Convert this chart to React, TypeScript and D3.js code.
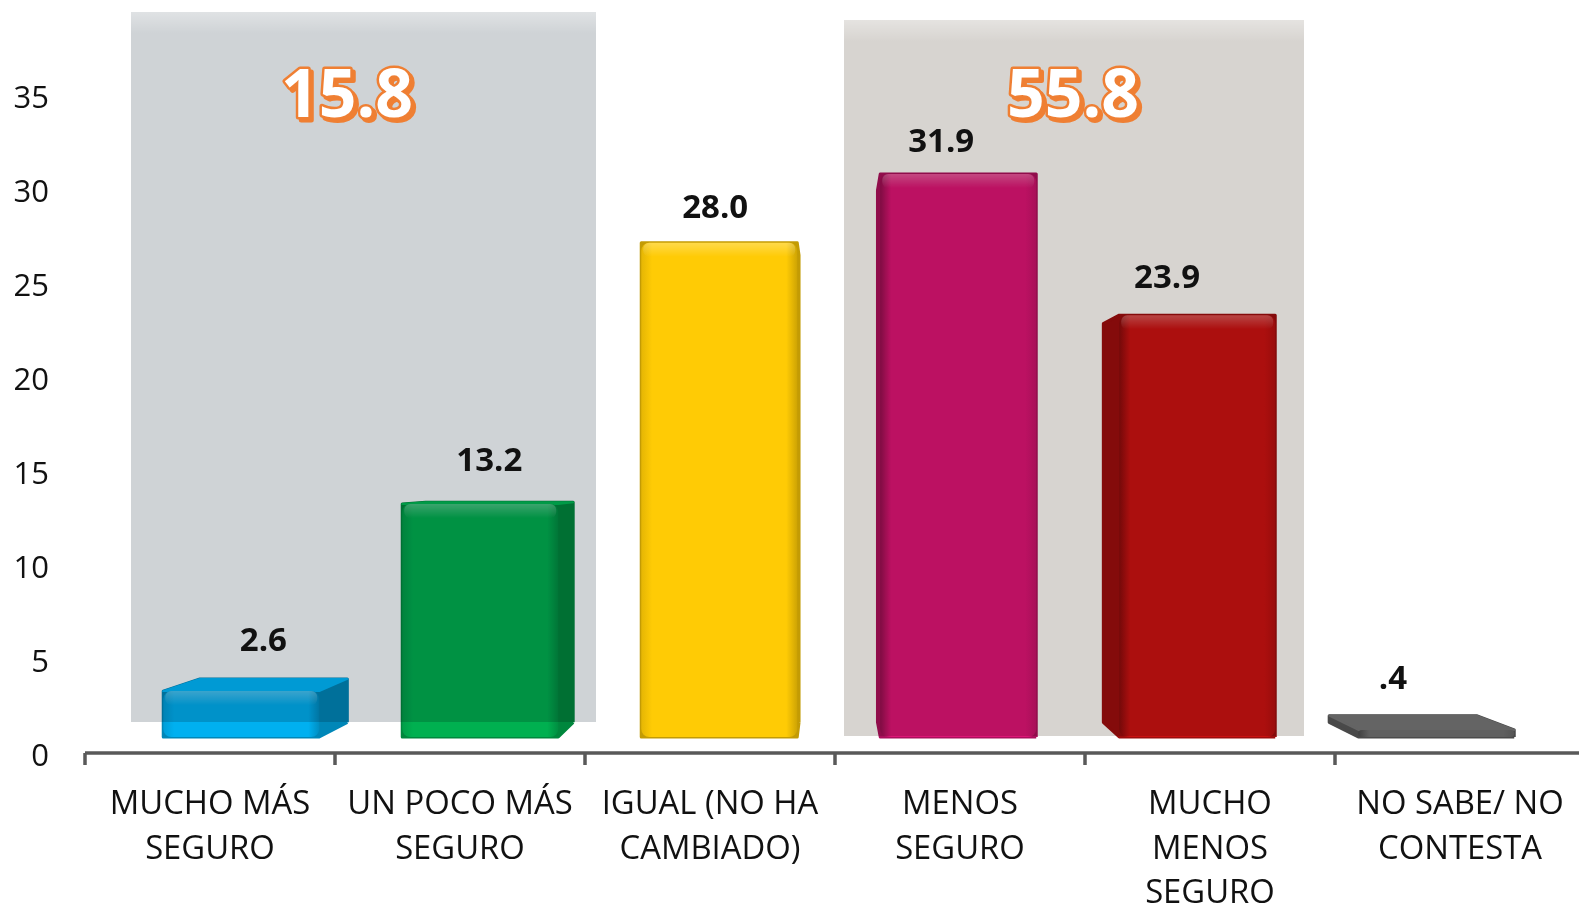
import React from 'react';
import * as d3 from 'd3';

const categories = [
  'MUCHO MÁS SEGURO',
  'UN POCO MÁS SEGURO',
  'IGUAL (NO HA CAMBIADO)',
  'MENOS SEGURO',
  'MUCHO MENOS SEGURO',
  'NO SABE/ NO CONTESTA',
];
const categoryLines = [
  ['MUCHO MÁS', 'SEGURO'],
  ['UN POCO MÁS', 'SEGURO'],
  ['IGUAL (NO HA', 'CAMBIADO)'],
  ['MENOS', 'SEGURO'],
  ['MUCHO', 'MENOS', 'SEGURO'],
  ['NO SABE/ NO', 'CONTESTA'],
];
const values = [2.6, 13.2, 28.0, 31.9, 23.9, 0.4];
const valueLabels = ['2.6', '13.2', '28.0', '31.9', '23.9', '.4'];
const barColors = ['#00b0f0', '#00b050', '#ffcb05', '#df1478', '#cc1111', '#5f5f5f'];
const yTicks = [0, 5, 10, 15, 20, 25, 30, 35];
const groupMore = [0, 1];
const groupLess = [3, 4];

const W = 1579;
const H = 907;
const FONT = "'Open Sans', 'DejaVu Sans', sans-serif";

export default function App() {
  React.useEffect(() => {
    document.body.style.margin = '0';
    document.body.style.overflow = 'hidden';
  }, []);

  const x = d3.scaleBand<string>().domain(categories).range([85, 1585]).padding(0);
  const yAxis = d3.scaleLinear().domain([0, 35]).range([755, 97]);
  const yBar = d3.scaleLinear().domain([0, 35]).range([737, 737 - 35 * 17.65]);
  const yLabel = d3.scaleLinear().domain([0, 35]).range([684.3, 684.3 - 35 * 17.05]);

  const VP = { x: 830, y: 470 };
  const DEPTH = 0.055;
  const back = (px: number, py: number): [number, number] => [
    px + DEPTH * (VP.x - px),
    py + DEPTH * (VP.y - py),
  ];
  const frontW = 156;
  const axisY = 753;

  const bars = categories.map((c, i) => {
    const cx = (x(c) as number) + x.bandwidth() / 2;
    const fc = cx + 0.044 * (920 - cx);
    const x0 = fc - frontW / 2;
    const x1 = fc + frontW / 2;
    const yB = yBar(0);
    const yT = yBar(values[i]);
    const pts: [number, number][] = [
      [x0, yT], [x1, yT], [x1, yB], [x0, yB],
      back(x0, yT), back(x1, yT), back(x1, yB), back(x0, yB),
    ];
    const hull = d3.polygonHull(pts) as [number, number][];
    const topVisible = yT > VP.y;
    const topFace = [[x0, yT], [x1, yT], back(x1, yT), back(x0, yT)];
    const base = d3.color(barColors[i]) as d3.RGBColor;
    return { c, i, cx, fc, x0, x1, yB, yT, hull, topVisible, topFace, base };
  });

  const line = d3.line();

  const panel = (idx: number[], top: number, bottom: number, padL: number, padR: number) => {
    const a = x(categories[idx[0]]) as number;
    const b = (x(categories[idx[idx.length - 1]]) as number) + x.bandwidth();
    return { x0: a + padL, x1: b + padR, top, bottom };
  };
  const p1 = panel(groupMore, 12, 722, 46, 11);
  const p2 = panel(groupLess, 20, 736, 9, -31);
  const sumMore = d3.sum(groupMore, (k) => values[k]);
  const sumLess = d3.sum(groupLess, (k) => values[k]);
  const bigLabels = [
    { idx: groupMore, text: sumMore.toFixed(1), p: p1, fill: '#cfd3d6' },
    { idx: groupLess, text: sumLess.toFixed(1), p: p2, fill: '#d7d4d0' },
  ].map((g) => {
    const mid = (x(categories[g.idx[0]]) as number) + x.bandwidth();
    return { ...g, tx: mid + 0.032 * (710 - mid) };
  });

  const tickXs = categories
    .map((c) => x(c) as number)
    .concat([(x(categories[categories.length - 1]) as number) + x.bandwidth()]);

  return (
    <svg width={W} height={H} style={{ position: 'fixed', left: 0, top: 0, display: 'block' }} fontFamily={FONT}>
      <defs>
        {bars.map((b) => {
          const kl = b.fc > VP.x ? 1.1 : 0.3;
          const kr = b.fc < VP.x ? 0.6 : 0.3;
          return (
            <linearGradient key={'g' + b.i} id={'g' + b.i} x1="0" x2="1" y1="0" y2="0">
              <stop offset="0" stopColor={b.base.darker(kl).formatHex()} />
              <stop offset="0.07" stopColor={b.base.formatHex()} />
              <stop offset="0.93" stopColor={b.base.formatHex()} />
              <stop offset="1" stopColor={b.base.darker(kr).formatHex()} />
            </linearGradient>
          );
        })}
        <linearGradient id="bevel" x1="0" x2="0" y1="0" y2="1">
          <stop offset="0" stopColor="#ffffff" stopOpacity="0.28" />
          <stop offset="1" stopColor="#ffffff" stopOpacity="0" />
        </linearGradient>
        <linearGradient id="panelShade" x1="0" x2="0" y1="0" y2="1">
          <stop offset="0" stopColor="#ffffff" stopOpacity="0.35" />
          <stop offset="0.03" stopColor="#ffffff" stopOpacity="0" />
        </linearGradient>
      </defs>
      <rect x={0} y={0} width={W} height={H} fill="#ffffff" />

      {/* bars */}
      {bars.map((b) => (
        <g key={'bar' + b.i}>
          <path
            d={line(b.hull.concat([b.hull[0]])) as string}
            fill={b.base.darker(0.75).formatHex()}
            stroke={b.base.darker(0.75).formatHex()}
            strokeWidth={3}
            strokeLinejoin="round"
          />
          {b.topVisible && (
            <path
              d={line(b.topFace as [number, number][]) + 'Z'}
              fill={b.base.brighter(0.15).formatHex()}
              stroke={b.base.brighter(0.15).formatHex()}
              strokeWidth={2}
              strokeLinejoin="round"
            />
          )}
          <rect
            x={b.x0}
            y={b.yT}
            width={b.x1 - b.x0}
            height={b.yB - b.yT}
            rx={Math.min(8, (b.yB - b.yT) / 2)}
            fill={`url(#g${b.i})`}
          />
          {b.yB - b.yT > 24 && (
            <rect x={b.x0 + 2} y={b.yT} width={b.x1 - b.x0 - 4} height={14} rx={6} fill="url(#bevel)" />
          )}
        </g>
      ))}

      {/* translucent grouping panels */}
      {bigLabels.map((g, k) => (
        <g key={'panel' + k}>
          <rect
            x={g.p.x0}
            y={g.p.top}
            width={g.p.x1 - g.p.x0}
            height={g.p.bottom - g.p.top}
            fill={g.fill}
            style={{ mixBlendMode: 'multiply' }}
          />
          <rect
            x={g.p.x0}
            y={g.p.top}
            width={g.p.x1 - g.p.x0}
            height={g.p.bottom - g.p.top}
            fill="url(#panelShade)"
          />
        </g>
      ))}

      {/* y tick labels */}
      {yTicks.map((t) => (
        <text key={'yt' + t} x={49} y={yAxis(t) + 11} textAnchor="end" fontSize={31} fill="#111">
          {t}
        </text>
      ))}

      {/* x axis */}
      <line x1={85} x2={W} y1={axisY} y2={axisY} stroke="#595959" strokeWidth={3.5} />
      {tickXs.map((tx, k) => (
        <line key={'tk' + k} x1={tx} x2={tx} y1={axisY} y2={axisY + 12} stroke="#595959" strokeWidth={3.5} />
      ))}
      {bars.map((b) => (
        <text key={'xl' + b.i} textAnchor="middle" fontSize={32.8} fill="#111">
          {categoryLines[b.i].map((ln, j) => (
            <tspan key={j} x={b.cx} y={814 + j * 44.5}>
              {ln}
            </tspan>
          ))}
        </text>
      ))}

      {/* value labels */}
      {bars.map((b) => (
        <text
          key={'vl' + b.i}
          x={b.cx - 6.8 - 0.0963 * (b.cx - 835)}
          y={yLabel(values[b.i]) + 11.5}
          textAnchor="middle"
          fontSize={33}
          fontWeight={700}
          fill="#111"
        >
          {valueLabels[b.i]}
        </text>
      ))}

      {/* big group totals */}
      {bigLabels.map((g, k) => (
        <g key={'big' + k} fontSize={66} fontWeight={700} textAnchor="middle">
          <text x={g.tx + 3} y={93 + 24 + 3} fill="#ef7f33" stroke="#ef7f33" strokeWidth={5} strokeLinejoin="round">
            {g.text}
          </text>
          <text
            x={g.tx}
            y={93 + 24}
            fill="#ffffff"
            stroke="#ef7f33"
            strokeWidth={5}
            strokeLinejoin="round"
            paintOrder="stroke"
          >
            {g.text}
          </text>
        </g>
      ))}
    </svg>
  );
}
